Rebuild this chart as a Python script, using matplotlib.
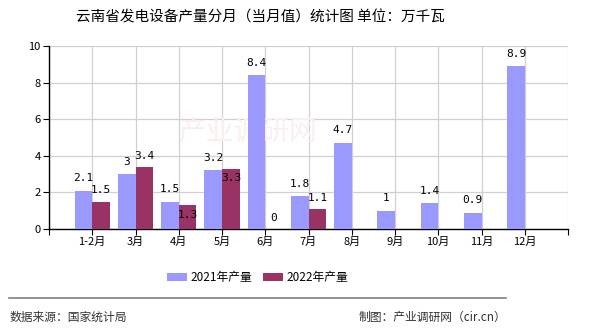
import matplotlib
matplotlib.use("Agg")
import matplotlib.pyplot as plt
import numpy as np

plt.rcParams['font.family'] = ['Noto Sans CJK SC', 'DejaVu Sans']

months = ['1-2月', '3月', '4月', '5月', '6月', '7月', '8月', '9月', '10月', '11月', '12月']
prod_2021 = [2.1, 3, 1.5, 3.2, 8.4, 1.8, 4.7, 1, 1.4, 0.9, 8.9]
prod_2022 = [1.5, 3.4, 1.3, 3.3, 0, 1.1, None, None, None, None, None]

c21 = '#9999ff'
c22 = '#993366'

fig = plt.figure(figsize=(5.9, 3.3), dpi=100)
ax = fig.add_axes([49 / 590, 1 - 229 / 330, (568 - 49) / 590, (229 - 46) / 330])

x = np.arange(1, len(months) + 1)
w = 0.41
ax.bar(x - w / 2, prod_2021, width=w, color=c21, zorder=3, label='2021年产量')
x22 = [xi for xi, v in zip(x, prod_2022) if v is not None]
v22 = [v for v in prod_2022 if v is not None]
ax.bar(np.array(x22) + w / 2, v22, width=w, color=c22, zorder=3, label='2022年产量')

lab_font = dict(family='DejaVu Sans Mono', fontsize=8, color='black')
for xi, v in zip(x, prod_2021):
    ax.annotate(f'{v:g}', (xi - w / 2, v), xytext=(0, 9), textcoords='offset points',
                ha='center', va='center', zorder=5, **lab_font)
for xi, v in zip(x, prod_2022):
    if v is None:
        continue
    # push the label into the bar when it would collide with the 2021 label
    dy = -7 if abs(v - prod_2021[xi - 1]) < 0.3 else 8
    ax.annotate(f'{v:g}', (xi + w / 2, v), xytext=(0, dy), textcoords='offset points',
                ha='center', va='center', zorder=5, **lab_font)

ax.set_xlim(0, 12)
ax.set_ylim(0, 10)
ax.set_yticks(range(0, 11, 2))
ax.set_xticks(range(0, 13))
ax.set_xticklabels([''] + months + [''], fontsize=8)
ax.tick_params(axis='y', labelsize=8, length=4, direction='out', pad=2)
ax.tick_params(axis='x', length=4, direction='out', pad=2)
ax.grid(True, color='#d0d0d0', linewidth=0.9, zorder=0)
ax.set_axisbelow(True)
for s in ['top', 'right']:
    ax.spines[s].set_visible(False)
for s in ['left', 'bottom']:
    ax.spines[s].set_color('black')
    ax.spines[s].set_linewidth(1)

# faint watermark
ax.text(4.6, 5.3, '产业调研网', fontsize=20, color='#fbeeee', ha='center', va='center', zorder=1)

fig.text(0.442, 0.948, '云南省发电设备产量分月（当月值）统计图 单位：万千瓦',
         ha='center', va='center', fontsize=10.5)

fig.legend(loc='center', bbox_to_anchor=(0.437, 0.158), ncol=2, frameon=False,
           fontsize=8.5, handlelength=1.7, handleheight=0.7, columnspacing=0.9,
           handletextpad=0.3)

fig.add_artist(plt.Line2D([9 / 590, 506 / 590], [1 - 298 / 330] * 2, color='#808080', linewidth=1.2))
fig.text(10 / 590, 1 - 317 / 330, '数据来源：国家统计局', ha='left', va='center', fontsize=8.5, color='#333333')
fig.text(506 / 590, 1 - 317 / 330, '制图：产业调研网（cir.cn）', ha='right', va='center', fontsize=8.5, color='#333333')

fig.savefig('out.png', dpi=100)
